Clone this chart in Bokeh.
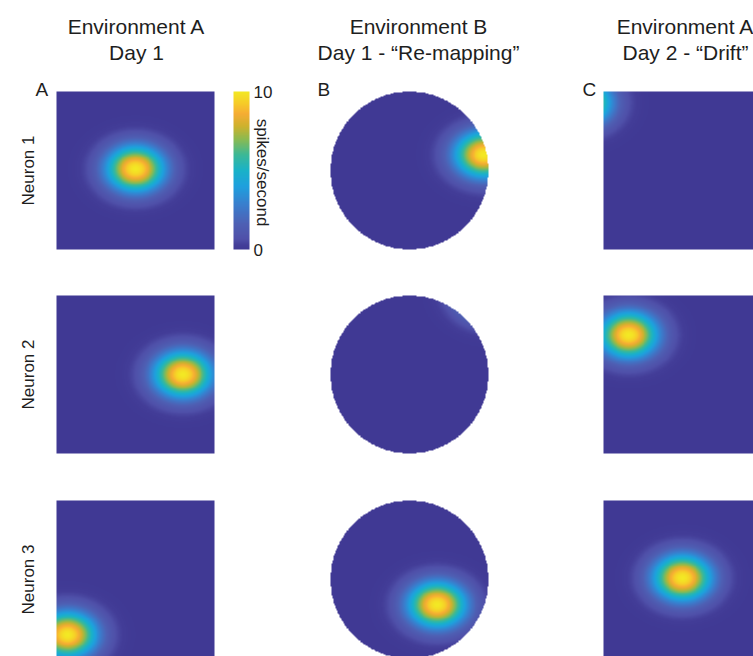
import numpy as np
from bokeh.plotting import figure
from bokeh.models import Range1d, LinearColorMapper, ColorBar, FixedTicker
from bokeh.core.properties import value
from bokeh.embed import file_html
from bokeh.resources import INLINE

# ---- firing-rate maps: one Gaussian place field per neuron and condition ----
neurons = ["Neuron 1", "Neuron 2", "Neuron 3"]
condition_env = ["Environment A", "Environment B", "Environment A"]
condition_day = ["Day 1", "Day 1 - \u201cRe-mapping\u201d", "Day 2 - \u201cDrift\u201d"]
panel_letters = ["A", "B", "C"]
arena_shapes = ["square", "circle", "square"]

# field centres in arena units (0..1, y upward); rows = neurons, cols = conditions
center_x = [[0.50, 0.97, -0.14],
            [0.80, 1.01, 0.16],
            [0.07, 0.675, 0.50]]
center_y = [[0.51, 0.60, 0.93],
            [0.50, 1.01, 0.75],
            [0.15, 0.34, 0.51]]
peak_rate = [[10, 10, 10],
             [10, 10, 10],
             [10, 10, 10]]
field_sigma_x = 0.13
field_sigma_y = 0.103

rate_min, rate_max = 0, 10
rate_ticks = [0, 10]
rate_label = "spikes/second"

# ---- colour map (parula-like) ----
stops = [
    (0.00, (64, 57, 148)),
    (0.025, (67, 61, 152)),
    (0.065, (79, 80, 169)),
    (0.16, (78, 96, 180)),
    (0.28, (58, 125, 205)),
    (0.40, (30, 160, 222)),
    (0.50, (25, 178, 200)),
    (0.60, (60, 184, 150)),
    (0.70, (140, 186, 80)),
    (0.78, (205, 178, 45)),
    (0.86, (246, 172, 52)),
    (0.93, (246, 205, 40)),
    (1.00, (243, 232, 36)),
]
pos = np.linspace(0, 1, 256)
sp = [s[0] for s in stops]
chans = [np.interp(pos, sp, [s[1][k] for s in stops]) for k in range(3)]
palette = ["#%02x%02x%02x" % (int(round(r)), int(round(g)), int(round(b)))
           for r, g, b in zip(*chans)]
mapper = LinearColorMapper(palette=palette, low=rate_min, high=rate_max,
                           nan_color=(0, 0, 0, 0))

# ---- page geometry (pixels, y measured downward from the top) ----
W, H = 753, 656
panel = 158
col_left = [56, 330, 603]
row_top = [91, 295, 500]
title_x = [136, 418, 685]
letter_x = [35, 317, 582]

p = figure(width=W, height=H, x_range=Range1d(0, W), y_range=Range1d(0, H),
           output_backend="svg", toolbar_location=None, min_border=0,
           x_axis_location=None, y_axis_location=None)
p.grid.visible = False
p.outline_line_color = None
p.background_fill_color = "white"
p.border_fill_color = "white"

def fy(y_down):
    return H - y_down

N = 240
g = (np.arange(N) + 0.5) / N
GX, GY = np.meshgrid(g, g)

for r in range(3):
    for c in range(3):
        rate = peak_rate[r][c] * np.exp(
            -((GX - center_x[r][c]) ** 2) / (2 * field_sigma_x ** 2)
            - ((GY - center_y[r][c]) ** 2) / (2 * field_sigma_y ** 2))
        if arena_shapes[c] == "circle":
            rate = np.where((GX - 0.5) ** 2 + (GY - 0.5) ** 2 <= 0.25, rate, np.nan)
        p.image(image=[rate], x=col_left[c], y=fy(row_top[r] + panel),
                dw=panel, dh=panel, color_mapper=mapper)

font = value("Liberation Sans")
ink = "#1e1e1e"

# column headings
p.text(x=title_x, y=[fy(26)] * 3, text=condition_env, text_font=font,
       text_font_size="21px", text_align="center", text_baseline="alphabetic",
       text_color=ink)
p.text(x=title_x, y=[fy(52)] * 3, text=condition_day, text_font=font,
       text_font_size="21px", text_align="center", text_baseline="alphabetic",
       text_color=ink)

# panel letters
p.text(x=letter_x, y=[fy(89)] * 3, text=panel_letters, text_font=font,
       text_font_size="19px", text_align="left", text_baseline="alphabetic",
       text_color=ink)

# row labels
p.text(x=[28] * 3, y=[fy(t + panel / 2) for t in row_top], text=neurons,
       text_font=font, text_font_size="17px", text_align="center",
       text_baseline="alphabetic", angle=np.pi / 2, text_color=ink)

# colour bar
cb = ColorBar(color_mapper=mapper, location=(233, fy(249)), width=16, height=158,
              padding=0, margin=0, ticker=FixedTicker(ticks=rate_ticks),
              major_tick_line_color=None, bar_line_color=None, label_standoff=4,
              major_label_text_font="Liberation Sans",
              major_label_text_font_size="17px",
              major_label_text_color=ink,
              background_fill_alpha=0, border_line_color=None)
p.add_layout(cb)

p.text(x=[261.5], y=[fy(172)], text=[rate_label], text_font=font,
       text_font_size="17px", text_align="center", text_baseline="alphabetic",
       angle=-np.pi / 2, text_color=ink)

open("out.html", "w").write(file_html(p, INLINE))
